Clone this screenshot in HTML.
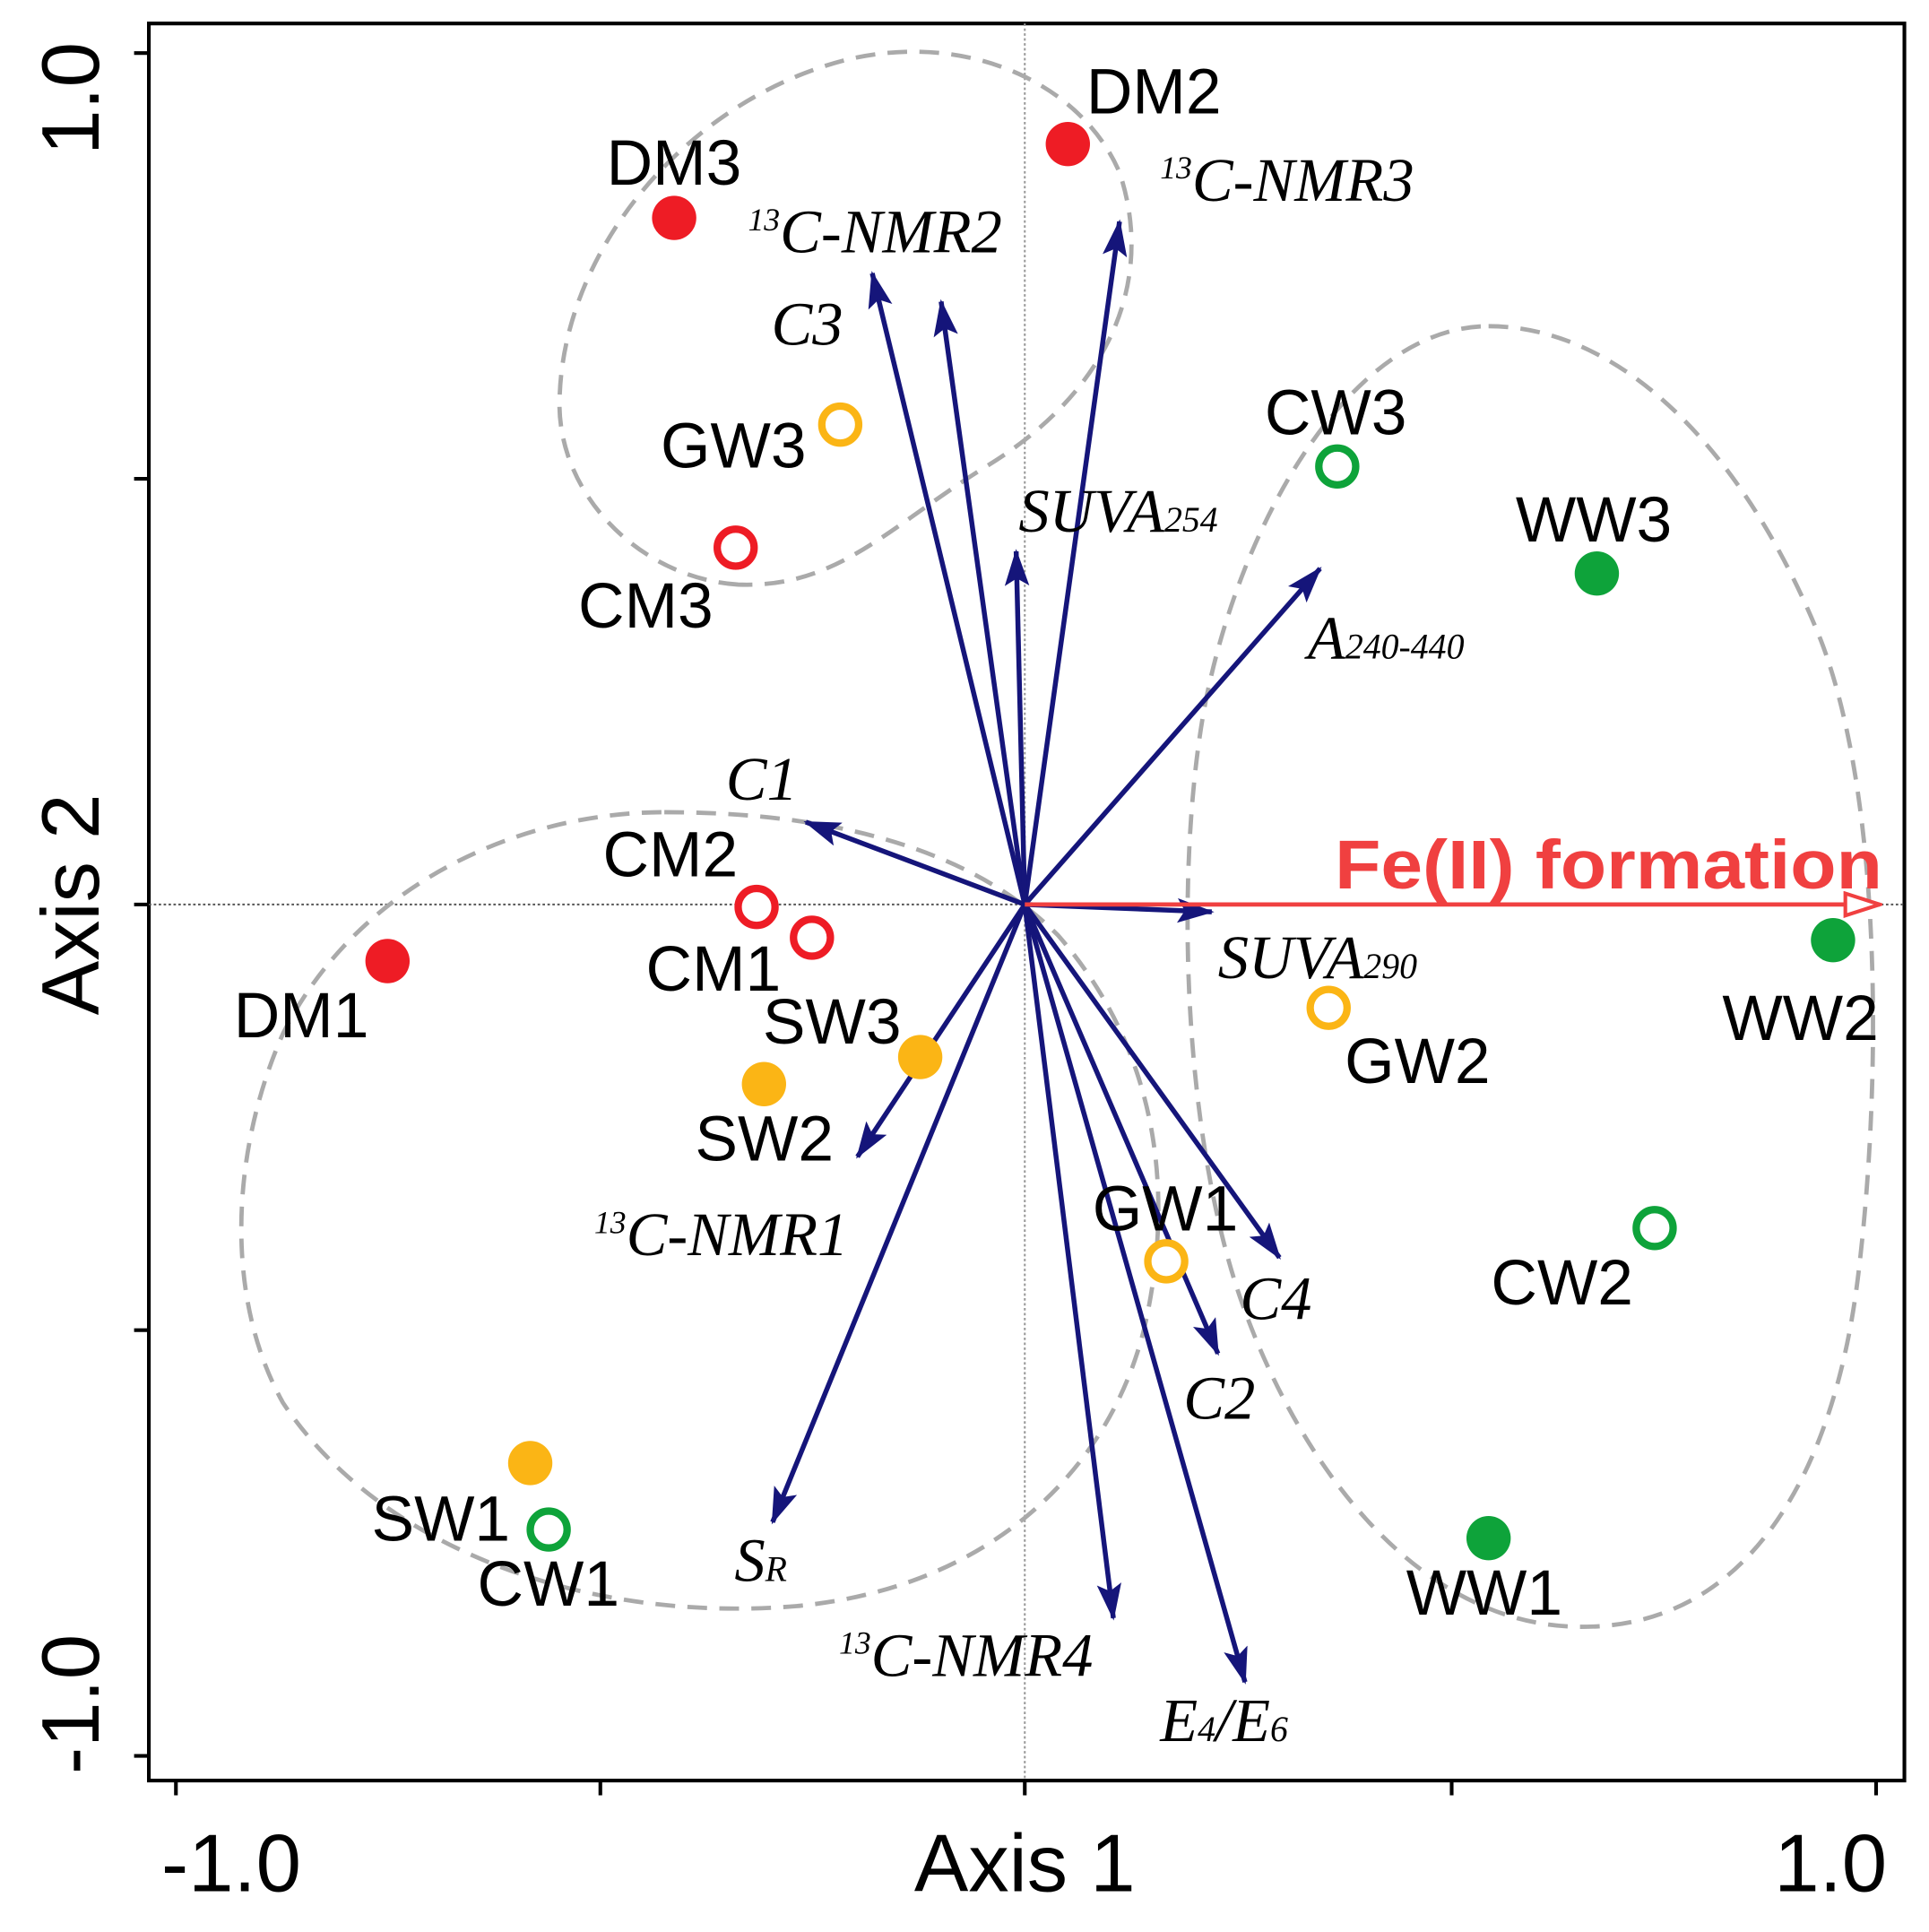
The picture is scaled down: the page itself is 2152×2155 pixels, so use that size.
<!DOCTYPE html>
<html><head><meta charset="utf-8"><style>html,body{margin:0;padding:0;background:#fff}svg{display:block}</style></head><body>
<svg width="2152" height="2155" viewBox="0 0 1568 1570" xmlns="http://www.w3.org/2000/svg">
<defs>
<marker id="nav" viewBox="0 0 30 20" refX="28" refY="10" markerWidth="30" markerHeight="20" markerUnits="userSpaceOnUse" orient="auto"><path d="M0,0 L30,10 L0,20 L6,10 Z" fill="#15157a"/></marker>
<marker id="red" viewBox="0 0 32 22" refX="30" refY="11" markerWidth="32" markerHeight="22" markerUnits="userSpaceOnUse" orient="auto"><path d="M2,2 L30,11 L2,20 Z" fill="#fff" stroke="#f04040" stroke-width="3"/></marker>
</defs>
<rect x="0" y="0" width="1568" height="1570" fill="#fff"/>
<rect x="121" y="19" width="1427" height="1428" fill="none" stroke="#000" stroke-width="3"/>
<g stroke="#000" stroke-width="3">
<line x1="143" y1="1447" x2="143" y2="1459"/><line x1="488" y1="1447" x2="488" y2="1459"/><line x1="833" y1="1447" x2="833" y2="1459"/><line x1="1180" y1="1447" x2="1180" y2="1459"/><line x1="1525" y1="1447" x2="1525" y2="1459"/>
<line x1="109" y1="43" x2="121" y2="43"/><line x1="109" y1="389" x2="121" y2="389"/><line x1="109" y1="735" x2="121" y2="735"/><line x1="109" y1="1081" x2="121" y2="1081"/><line x1="109" y1="1427" x2="121" y2="1427"/>
</g>
<line x1="833" y1="19" x2="833" y2="1447" stroke="#999" stroke-width="1.5" stroke-dasharray="2,2"/>
<line x1="121" y1="735" x2="1548" y2="735" stroke="#555" stroke-width="1.5" stroke-dasharray="2,2"/>
<g fill="none" stroke="#aaa" stroke-width="3.5" stroke-dasharray="16,10">
<path d="M600,475 C520,470 450,400 455,320 C460,200 560,80 690,48 C790,25 880,70 910,140 C940,230 900,320 800,380 C720,430 680,478 600,475 Z"/>
<path d="M540,660 C700,660 800,700 860,760 C930,840 960,950 930,1080 C900,1200 800,1290 650,1305 C480,1320 310,1260 230,1140 C180,1050 190,930 230,840 C290,720 420,660 540,660 Z"/>
<path d="M1210,265 C1320,265 1420,370 1480,520 C1530,650 1530,880 1510,1040 C1490,1200 1420,1320 1290,1322 C1160,1325 1060,1200 1010,1060 C960,920 955,700 980,570 C1010,420 1100,265 1210,265 Z"/>
</g>
<g stroke="#15157a" stroke-width="4" marker-end="url(#nav)">
<line x1="833" y1="735" x2="910" y2="180"/>
<line x1="833" y1="735" x2="709" y2="222"/>
<line x1="833" y1="735" x2="765" y2="245"/>
<line x1="833" y1="735" x2="826" y2="448"/>
<line x1="833" y1="735" x2="1073" y2="462"/>
<line x1="833" y1="735" x2="655" y2="668"/>
<line x1="833" y1="735" x2="985" y2="741"/>
<line x1="833" y1="735" x2="697" y2="940"/>
<line x1="833" y1="735" x2="628" y2="1237"/>
<line x1="833" y1="735" x2="905" y2="1315"/>
<line x1="833" y1="735" x2="1012" y2="1367"/>
<line x1="833" y1="735" x2="990" y2="1100"/>
<line x1="833" y1="735" x2="1040" y2="1022"/>
</g>
<line x1="833" y1="735" x2="1528" y2="735" stroke="#f04040" stroke-width="3.5" marker-end="url(#red)"/>
<text x="1085" y="722" font-family="Liberation Sans, sans-serif" font-weight="bold" font-size="56" fill="#f04040" textLength="445" lengthAdjust="spacingAndGlyphs">Fe(II) formation</text>
<g stroke-width="6">
<circle cx="868" cy="117" r="18" fill="#ee1c25"/>
<circle cx="548" cy="177" r="18" fill="#ee1c25"/>
<circle cx="315" cy="781" r="18" fill="#ee1c25"/>
<circle cx="598" cy="445" r="15" fill="#fff" stroke="#ee1c25"/>
<circle cx="615" cy="737" r="15" fill="#fff" stroke="#ee1c25"/>
<circle cx="660" cy="762" r="15" fill="#fff" stroke="#ee1c25"/>
<circle cx="683" cy="345" r="15" fill="#fff" stroke="#fbb515"/>
<circle cx="1080" cy="819" r="15" fill="#fff" stroke="#fbb515"/>
<circle cx="948" cy="1025" r="15" fill="#fff" stroke="#fbb515"/>
<circle cx="748" cy="859" r="18" fill="#fbb515"/>
<circle cx="621" cy="881" r="18" fill="#fbb515"/>
<circle cx="431" cy="1189" r="18" fill="#fbb515"/>
<circle cx="1087" cy="379" r="15" fill="#fff" stroke="#0ea33a"/>
<circle cx="1345" cy="998" r="15" fill="#fff" stroke="#0ea33a"/>
<circle cx="446" cy="1243" r="15" fill="#fff" stroke="#0ea33a"/>
<circle cx="1298" cy="466" r="18" fill="#0ea33a"/>
<circle cx="1490" cy="764" r="18" fill="#0ea33a"/>
<circle cx="1210" cy="1250" r="18" fill="#0ea33a"/>
</g>
<g font-family="Liberation Sans, sans-serif" font-size="52" fill="#000">
<text x="883" y="92">DM2</text>
<text x="493" y="150">DM3</text>
<text x="537" y="380">GW3</text>
<text x="470" y="510">CM3</text>
<text x="1028" y="353">CW3</text>
<text x="1232" y="440">WW3</text>
<text x="490" y="712">CM2</text>
<text x="525" y="805">CM1</text>
<text x="190" y="843">DM1</text>
<text x="620" y="848">SW3</text>
<text x="565" y="943">SW2</text>
<text x="1093" y="880">GW2</text>
<text x="1400" y="845">WW2</text>
<text x="888" y="1000">GW1</text>
<text x="1212" y="1060">CW2</text>
<text x="302" y="1252">SW1</text>
<text x="388" y="1305">CW1</text>
<text x="1143" y="1312">WW1</text>
</g>
<g font-family="Liberation Serif, serif" font-style="italic" font-size="50" fill="#000">
<text x="943" y="163"><tspan font-size="26" dy="-18">13</tspan><tspan dy="18">C-NMR3</tspan></text>
<text x="608" y="205"><tspan font-size="26" dy="-18">13</tspan><tspan dy="18">C-NMR2</tspan></text>
<text x="627" y="280">C3</text>
<text x="828" y="432">SUVA<tspan font-size="29">254</tspan></text>
<text x="1063" y="535">A<tspan font-size="29">240-440</tspan></text>
<text x="590" y="650">C1</text>
<text x="990" y="795">SUVA<tspan font-size="29">290</tspan></text>
<text x="483" y="1020"><tspan font-size="26" dy="-18">13</tspan><tspan dy="18">C-NMR1</tspan></text>
<text x="1008" y="1072">C4</text>
<text x="962" y="1153">C2</text>
<text x="597" y="1285">S<tspan font-size="29">R</tspan></text>
<text x="682" y="1362"><tspan font-size="26" dy="-18">13</tspan><tspan dy="18">C-NMR4</tspan></text>
<text x="943" y="1415">E<tspan font-size="29">4</tspan>/E<tspan font-size="29">6</tspan></text>
</g>
<g font-family="Liberation Sans, sans-serif" font-size="66" fill="#000">
<text x="188" y="1537" text-anchor="middle">-1.0</text>
<text x="833" y="1537" text-anchor="middle">Axis 1</text>
<text x="1488" y="1537" text-anchor="middle">1.0</text>
<text transform="translate(80,80) rotate(-90)" text-anchor="middle">1.0</text>
<text transform="translate(80,735) rotate(-90)" text-anchor="middle">Axis 2</text>
<text transform="translate(80,1385) rotate(-90)" text-anchor="middle">-1.0</text>
</g>
</svg>
</body></html>
